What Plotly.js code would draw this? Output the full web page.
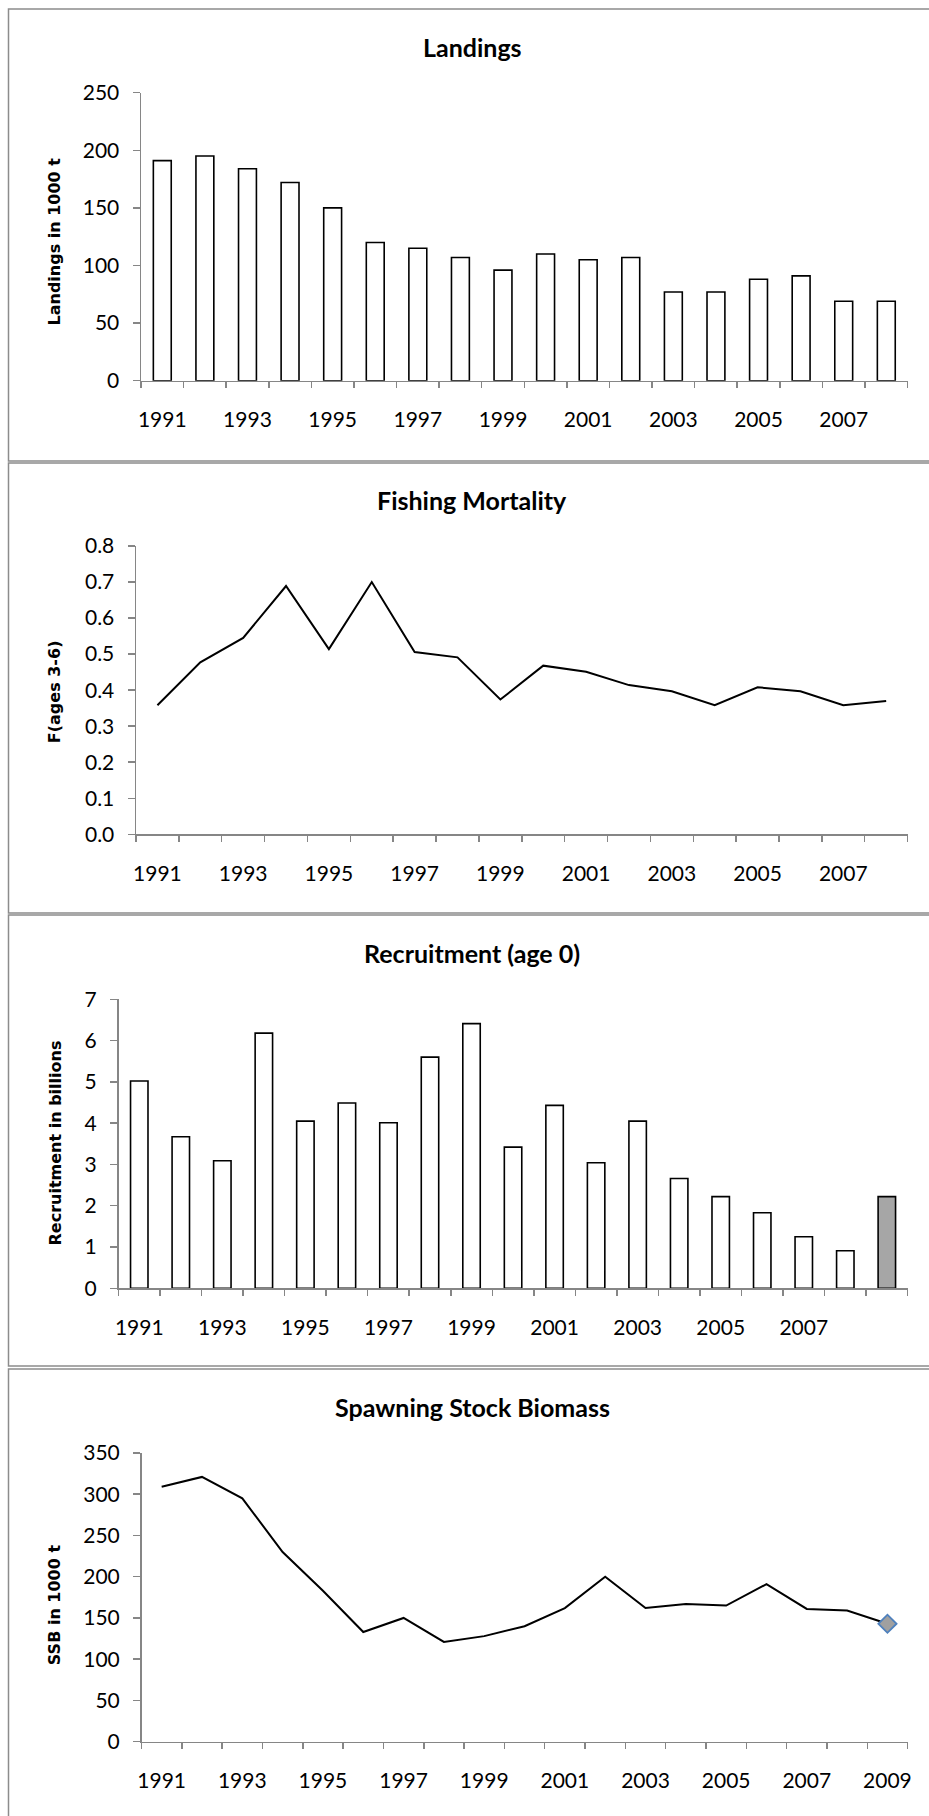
<!DOCTYPE html>
<html>
<head>
<meta charset="utf-8">
<script src="https://cdn.plot.ly/plotly-3.0.1.min.js"></script>
<style>
  html, body { margin: 0; padding: 0; background: #ffffff; }
  #chart { width: 929px; height: 1816px; }
</style>
</head>
<body>
<div id="chart"></div>
<script>
// ---------------- data ----------------
const years18 = [1991,1992,1993,1994,1995,1996,1997,1998,1999,2000,2001,2002,2003,2004,2005,2006,2007,2008];
const years19 = [1991,1992,1993,1994,1995,1996,1997,1998,1999,2000,2001,2002,2003,2004,2005,2006,2007,2008,2009];

const landings = [191,195,184,172,150,120,115,107,96,110,105,107,77,77,88,91,69,69];
const fishingMortality = [0.358,0.477,0.545,0.689,0.514,0.700,0.506,0.491,0.374,0.468,0.451,0.414,0.397,0.358,0.408,0.397,0.358,0.370];
const recruitment = [5.02,3.67,3.09,6.18,4.05,4.49,4.01,5.60,6.41,3.42,4.43,3.04,4.05,2.66,2.22,1.83,1.25,0.91,2.22];
const ssb = [309,321,295,230,183,133,150,121,128,140,162,200,162,167,165,191,161,159,143];

const tickYears18 = [1991,1993,1995,1997,1999,2001,2003,2005,2007];
const tickLabels18 = ["1991","1993","1995","1997","1999","2001","2003","2005","2007"];
const tickYears19 = [1991,1993,1995,1997,1999,2001,2003,2005,2007,2009];
const tickLabels19 = ["1991","1993","1995","1997","1999","2001","2003","2005","2007","2009"];

const titles = ["Landings","Fishing Mortality","Recruitment (age 0)","Spawning Stock Biomass"];
const yTitles = ["Landings in 1000 t","F(ages 3-6)","Recruitment in billions","SSB in 1000 t"];

// ---------------- layout helpers ----------------
const W = 929, H = 1816;
const px = v => v / W;
const py = v => 1 - v / H;

const AXIS_GREY = '#868686';
const TICK_FONT = {family: 'Lato, Calibri, sans-serif', size: 21, color: '#000000'};

const panels = [
  {l: 141, r: 907.6, t: 92.7, b: 380.7, title: 47,  box: [9, 461],   ytc: 242},
  {l: 136, r: 907.6, t: 546,  b: 834.3, title: 500, box: [463, 913], ytc: 691.7},
  {l: 118.5, r: 907.6, t: 999.3, b: 1288.3, title: 953, box: [915, 1366], ytc: 1143},
  {l: 141.5, r: 907.6, t: 1453, b: 1741.7, title: 1407, box: [1369, 1830], ytc: 1604.7}
];

function boundaries(yrs) {
  const b = yrs.map(y => y - 0.5);
  b.push(yrs[yrs.length - 1] + 0.5);
  return b;
}

function xAxis(p, yrs, tv, tt, anchor) {
  return {
    domain: [px(p.l), px(p.r)],
    anchor: anchor,
    range: [yrs[0] - 0.5, yrs[yrs.length - 1] + 0.5],
    tickmode: 'array', tickvals: tv, ticktext: tt,
    ticks: '', showgrid: false, zeroline: false,
    showline: true, linecolor: AXIS_GREY, linewidth: 1.5,
    tickfont: TICK_FONT, ticklabelstandoff: 20,
    minor: {tickmode: 'array', tickvals: boundaries(yrs), ticks: 'outside', ticklen: 6,
            tickcolor: AXIS_GREY, tickwidth: 1.5, showgrid: false},
    fixedrange: true
  };
}

function yAxis(p, range, dtick, fmt, anchor) {
  return {
    domain: [py(p.b), py(p.t)],
    anchor: anchor,
    range: range, tickmode: 'linear', tick0: 0, dtick: dtick, tickformat: fmt,
    ticks: 'outside', ticklen: 7, tickcolor: AXIS_GREY, tickwidth: 1.5,
    showgrid: false, zeroline: false,
    showline: true, linecolor: AXIS_GREY, linewidth: 1.5,
    tickfont: TICK_FONT, ticklabelstandoff: 9,
    fixedrange: true
  };
}

// ---------------- traces ----------------
const traces = [
  {type: 'bar', x: years18, y: landings, xaxis: 'x', yaxis: 'y', width: 0.42,
   marker: {color: '#ffffff', line: {color: '#000000', width: 1.6}}},
  {type: 'scatter', mode: 'lines', x: years18, y: fishingMortality, xaxis: 'x2', yaxis: 'y2',
   line: {color: '#000000', width: 2}},
  {type: 'bar', x: years19, y: recruitment, xaxis: 'x3', yaxis: 'y3', width: 0.42,
   marker: {color: recruitment.map((v, i) => i === recruitment.length - 1 ? '#a6a6a6' : '#ffffff'),
            line: {color: '#000000', width: 1.6}}},
  {type: 'scatter', mode: 'lines', x: years19, y: ssb, xaxis: 'x4', yaxis: 'y4',
   line: {color: '#000000', width: 2}},
  {type: 'scatter', mode: 'markers', x: [years19[years19.length - 1]], y: [ssb[ssb.length - 1]],
   xaxis: 'x4', yaxis: 'y4',
   marker: {symbol: 'diamond', size: 14, color: '#a0a0a0', line: {color: '#4f81bd', width: 1.8}}}
];

// ---------------- annotations & shapes ----------------
const annotations = [];
const shapes = [];
panels.forEach((p, i) => {
  annotations.push({
    xref: 'paper', yref: 'paper', x: px(472), y: py(p.title), text: '<b>' + titles[i] + '</b>',
    showarrow: false, xanchor: 'center', yanchor: 'middle',
    font: {family: 'Lato, Calibri, sans-serif', size: 25, color: '#000000'}
  });
  annotations.push({
    xref: 'paper', yref: 'paper', x: px(54.5), y: py(p.ytc), text: '<b>' + yTitles[i] + '</b>',
    showarrow: false, xanchor: 'center', yanchor: 'middle', textangle: -90,
    font: {family: 'DejaVu Sans, Verdana, sans-serif', size: 16, color: '#000000'}
  });
  shapes.push({
    type: 'rect', xref: 'paper', yref: 'paper',
    x0: px(8.5), x1: px(940), y0: py(p.box[1]), y1: py(p.box[0]),
    line: {color: '#8c8c8c', width: 1.5}, fillcolor: 'rgba(0,0,0,0)', layer: 'below'
  });
});

const layout = {
  width: W, height: H,
  margin: {l: 0, r: 0, t: 0, b: 0, pad: 0},
  paper_bgcolor: '#ffffff', plot_bgcolor: '#ffffff',
  showlegend: false,
  xaxis:  xAxis(panels[0], years18, tickYears18, tickLabels18, 'y'),
  yaxis:  yAxis(panels[0], [0, 250], 50, 'd', 'x'),
  xaxis2: xAxis(panels[1], years18, tickYears18, tickLabels18, 'y2'),
  yaxis2: yAxis(panels[1], [0, 0.8], 0.1, '.1f', 'x2'),
  xaxis3: xAxis(panels[2], years19, tickYears18, tickLabels18, 'y3'),
  yaxis3: yAxis(panels[2], [0, 7], 1, 'd', 'x3'),
  xaxis4: xAxis(panels[3], years19, tickYears19, tickLabels19, 'y4'),
  yaxis4: yAxis(panels[3], [0, 350], 50, 'd', 'x4'),
  annotations: annotations,
  shapes: shapes
};

Plotly.newPlot('chart', traces, layout, {staticPlot: true, displayModeBar: false});
</script>
</body>
</html>
